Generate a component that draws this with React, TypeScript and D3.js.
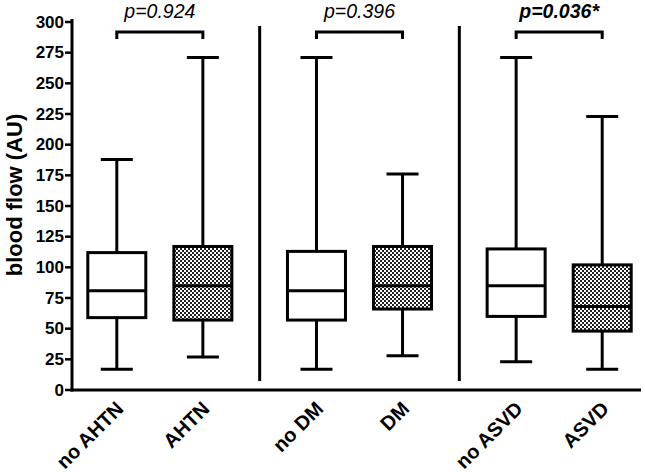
import React from "react";
import * as d3 from "d3";

const categories = ["no AHTN", "AHTN", "no DM", "DM", "no ASVD", "ASVD"];
const groups = ["AHTN", "DM", "ASVD"];
const groupOf = ["AHTN", "AHTN", "DM", "DM", "ASVD", "ASVD"];
const filled = [false, true, false, true, false, true];
const mins = [17, 27, 17, 28, 23, 17];
const q1s = [59, 57, 57, 66, 60, 48];
const medians = [81, 85, 81, 85, 85, 68];
const q3s = [112, 117, 113, 117, 115, 102];
const maxs = [188, 271, 271, 176, 271, 223];
const pValues = ["p=0.924", "p=0.396", "p=0.036*"];
const pBold = [false, false, true];
const yTicks = [0, 25, 50, 75, 100, 125, 150, 175, 200, 225, 250, 275, 300];

const W = 645;
const H = 472;

export default function App() {
  const y = d3.scaleLinear().domain([0, 300]).range([390, 22]);
  const gx = d3.scaleBand<string>().domain(groups).range([60, 659]).padding(0);
  const inner = d3
    .scalePoint<string>()
    .domain(["a", "b"])
    .range([0, gx.bandwidth()])
    .padding(0.66);
  const cx = (i: number) =>
    (gx(groupOf[i]) as number) + (inner(i % 2 === 0 ? "a" : "b") as number);
  const boxW = 58;
  const capW = 32;
  const sw = 3;
  const font = "Arial, 'Liberation Sans', Helvetica, sans-serif";

  return (
    <svg
      width={W}
      height={H}
      style={{ position: "absolute", left: 0, top: 0, background: "#fff" }}
      fontFamily={font}
    >
      <defs>
        <pattern id="checker" width="4" height="4" patternUnits="userSpaceOnUse">
          <rect width="4" height="4" fill="#ffffff" />
          <rect x="0" y="0" width="2" height="2" fill="#222" />
          <rect x="2" y="2" width="2" height="2" fill="#222" />
        </pattern>
      </defs>

      {/* y axis */}
      <line x1={72} x2={72} y1={y(300) - 3} y2={y(0) + 1.5} stroke="#000" strokeWidth={sw} />
      {yTicks.map((t) => (
        <g key={t}>
          <line x1={65} x2={72} y1={y(t)} y2={y(t)} stroke="#000" strokeWidth={2.5} />
          <text
            x={64}
            y={y(t)}
            textAnchor="end"
            dominantBaseline="central"
            fontWeight="bold"
            fontSize={17}
          >
            {t}
          </text>
        </g>
      ))}
      <text
        transform={`translate(22, 195) rotate(-90)`}
        textAnchor="middle"
        fontWeight="bold"
        fontSize={22}
      >
        blood flow (AU)
      </text>

      {/* x axis */}
      <line x1={70.5} x2={641} y1={y(0)} y2={y(0)} stroke="#000" strokeWidth={sw} />

      {/* separators */}
      {groups.slice(1).map((g) => (
        <line
          key={g}
          x1={gx(g) as number}
          x2={gx(g) as number}
          y1={26}
          y2={381}
          stroke="#000"
          strokeWidth={sw}
        />
      ))}

      {/* boxes */}
      {categories.map((c, i) => {
        const x = cx(i);
        return (
          <g key={c}>
            <line x1={x} x2={x} y1={y(maxs[i])} y2={y(q3s[i])} stroke="#000" strokeWidth={sw} />
            <line x1={x} x2={x} y1={y(q1s[i])} y2={y(mins[i])} stroke="#000" strokeWidth={sw} />
            <line x1={x - capW / 2} x2={x + capW / 2} y1={y(maxs[i])} y2={y(maxs[i])} stroke="#000" strokeWidth={sw} />
            <line x1={x - capW / 2} x2={x + capW / 2} y1={y(mins[i])} y2={y(mins[i])} stroke="#000" strokeWidth={sw} />
            <rect
              x={x - boxW / 2}
              y={y(q3s[i])}
              width={boxW}
              height={y(q1s[i]) - y(q3s[i])}
              fill={filled[i] ? "url(#checker)" : "#fff"}
              stroke="#000"
              strokeWidth={sw}
            />
            <line x1={x - boxW / 2} x2={x + boxW / 2} y1={y(medians[i])} y2={y(medians[i])} stroke="#000" strokeWidth={sw} />
            <text
              transform={`translate(${x + 3}, ${y(0) + 15}) rotate(-45)`}
              textAnchor="end"
              dominantBaseline="central"
              fontWeight="bold"
              fontSize={20}
            >
              {c}
            </text>
          </g>
        );
      })}

      {/* brackets and p-values */}
      {groups.map((g, k) => {
        const x1 = cx(2 * k);
        const x2 = cx(2 * k + 1);
        return (
          <g key={g}>
            <path
              d={`M${x1},39 L${x1},32 L${x2},32 L${x2},39`}
              fill="none"
              stroke="#000"
              strokeWidth={sw}
            />
            <text
              x={(x1 + x2) / 2}
              y={18}
              textAnchor="middle"
              fontStyle="italic"
              fontWeight={pBold[k] ? "bold" : "normal"}
              fontSize={19.5}
            >
              {pValues[k]}
            </text>
          </g>
        );
      })}
    </svg>
  );
}
